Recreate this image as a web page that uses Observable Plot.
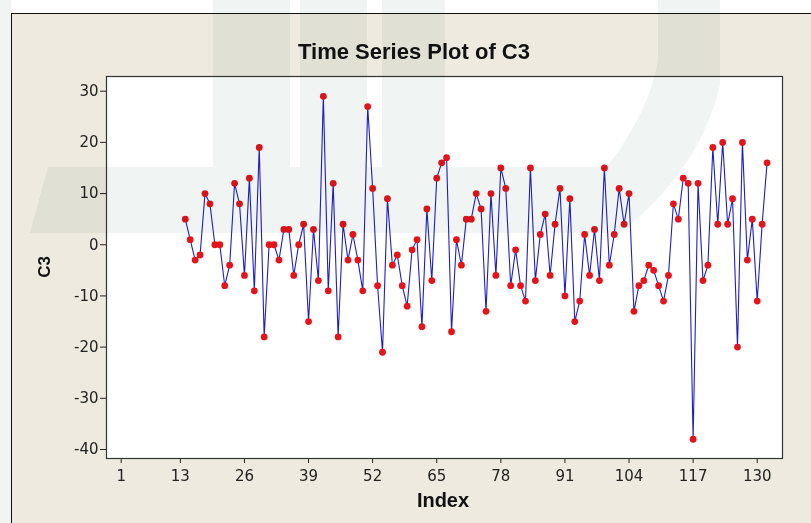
<!DOCTYPE html>
<html><head><meta charset="utf-8">
<script src="https://cdn.jsdelivr.net/npm/d3@7"></script>
<script src="https://cdn.jsdelivr.net/npm/@observablehq/plot@0.6"></script>
<style>
html,body{margin:0;padding:0;background:#fff;}
#wrap{position:relative;width:811px;height:523px;overflow:hidden;background:#fff;}
#panel{position:absolute;left:11px;top:13px;width:820px;height:530px;background:#EEEAE0;border-left:1.5px solid #111;border-top:1.5px solid #111;box-sizing:border-box;}
#chart{position:absolute;left:0;top:0;}
#labels{position:absolute;left:0;top:0;pointer-events:none;}
#wm{position:absolute;left:0;top:0;mix-blend-mode:multiply;pointer-events:none;}
</style></head>
<body>
<div id="wrap">
  <div id="panel"></div>
  <div id="chart"></div>
  <svg id="labels" width="811" height="523" font-family="Liberation Sans, Arial, sans-serif" font-weight="bold" fill="#111">
    <text x="414" y="58.5" font-size="22" text-anchor="middle">Time Series Plot of C3</text>
    <text x="443" y="506.5" font-size="20" text-anchor="middle">Index</text>
    <text transform="translate(50,267) rotate(-90)" font-size="17" text-anchor="middle">C3</text>
  </svg>
  <svg id="wm" width="811" height="523">
    <g fill="#F0F4F2">
      <rect x="0" y="0" width="11" height="523"/>
      <rect x="213" y="0" width="77" height="167"/>
      <rect x="300" y="0" width="67" height="167"/>
      <rect x="382" y="0" width="63" height="167"/>
      <path d="M658,0 L720,0 L720,85 Q700,170 620,233 L30,233 L48,167 L607,167 Q650,110 658,60 Z"/>
    </g>
  </svg>
</div>
<script>
const startIndex = 14;
const values = [
  5, 1, -3, -2, 10, 8, 0, 0, -8, -4,
  12, 8, -6, 13, -9, 19, -18, 0, 0, -3,
  3, 3, -6, 0, 4, -15, 3, -7, 29, -9,
  12, -18, 4, -3, 2, -3, -9, 27, 11, -8,
  -21, 9, -4, -2, -8, -12, -1, 1, -16, 7,
  -7, 13, 16, 17, -17, 1, -4, 5, 5, 10,
  7, -13, 10, -6, 15, 11, -8, -1, -8, -11,
  15, -7, 2, 6, -6, 4, 11, -10, 9, -15,
  -11, 2, -6, 3, -7, 15, -4, 2, 11, 4,
  10, -13, -8, -7, -4, -5, -8, -11, -6, 8,
  5, 13, 12, -38, 12, -7, -4, 19, 4, 20,
  4, 9, -20, 20, -3, 5, -11, 4, 16
];
const xTicks = [1, 13, 26, 39, 52, 65, 78, 91, 104, 117, 130];
const yTicks = [-40, -30, -20, -10, 0, 10, 20, 30];
const data = values.map((v, i) => ({index: startIndex + i, value: v}));

const chart = Plot.plot({
  width: 811, height: 523,
  marginLeft: 106, marginRight: 29, marginTop: 76, marginBottom: 65,
  style: {background: "transparent", fontFamily: "DejaVu Sans, Verdana, sans-serif", color: "#222", overflow: "visible"},
  x: {domain: [-1.98, 135.13], label: null},
  y: {domain: [-41.76, 32.87], label: null},
  marks: [
    Plot.frame({fill: "white", stroke: "none"}),
    Plot.axisX({ticks: xTicks, tickSize: 5, tickPadding: 7, fontSize: 15, label: null, tickFormat: d => String(d)}),
    Plot.axisY({ticks: yTicks, tickSize: 6, tickPadding: 2, fontSize: 15, label: null, tickFormat: d => String(d)}),
    Plot.line(data, {x: "index", y: "value", stroke: "#1F1FC8", strokeWidth: 1.1}),
    Plot.dot(data, {x: "index", y: "value", r: 3.4, fill: "#E5141A", stroke: "none"}),
    Plot.frame({stroke: "#333", strokeWidth: 1.2})
  ]
});
document.getElementById("chart").appendChild(chart);
</script>
</body></html>
